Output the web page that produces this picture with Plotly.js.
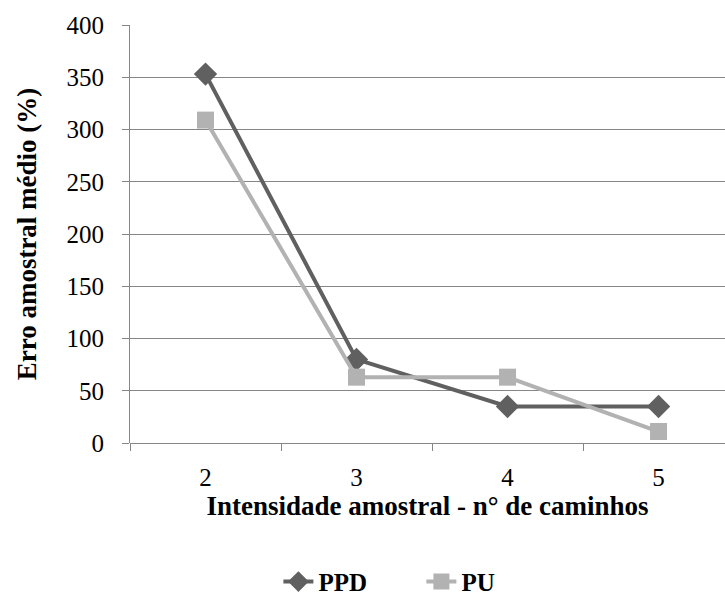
<!DOCTYPE html>
<html>
<head>
<meta charset="utf-8">
<script src="https://cdn.plot.ly/plotly-3.0.1.min.js"></script>
<style>html,body{margin:0;padding:0;background:#fff;}#chart{width:725px;height:598px;}</style>
</head>
<body>
<div id="chart"></div>
<script>
const categories = ['2', '3', '4', '5'];
const ppd = [353, 80, 35, 35];
const pu = [309, 63, 63, 11];

const xpos = categories.map((c, i) => i);
const font = {family: 'Liberation Serif, Times New Roman, serif', color: '#000'};

const traces = [
  {x: xpos, y: ppd, name: 'PPD', type: 'scatter', mode: 'lines+markers',
   line: {color: '#606060', width: 4},
   marker: {symbol: 'diamond', size: 18, color: '#606060'}},
  {x: xpos, y: pu, name: 'PU', type: 'scatter', mode: 'lines+markers',
   line: {color: '#b2b2b2', width: 4},
   marker: {symbol: 'square', size: 17, color: '#b2b2b2'}}
];

const layout = {
  width: 725, height: 598,
  margin: {l: 130, r: 0, t: 25, b: 155},
  paper_bgcolor: '#fff', plot_bgcolor: '#fff',
  font: Object.assign({size: 25}, font),
  showlegend: true,
  legend: {orientation: 'h', xref: 'container', yref: 'container',
           x: 0.384, xanchor: 'left', y: 0.027, yanchor: 'middle',
           font: Object.assign({size: 25, weight: 'bold'}, font),
           entrywidth: 98, entrywidthmode: 'pixels',
           traceorder: 'normal'},
  xaxis: {
    automargin: false,
    range: [-0.5, 3.44], tickvals: xpos, ticktext: categories,
    ticks: '', showgrid: false, zeroline: false,
    showline: false,
    minor: {tickmode: 'linear', tick0: -0.5, dtick: 1, ticks: 'outside', ticklen: 7, tickcolor: '#868686', tickwidth: 1, showgrid: false},
    tickfont: Object.assign({size: 25}, font), ticklabelstandoff: 17,
    title: {text: 'Intensidade amostral - n° de caminhos', font: Object.assign({size: 27, weight: 'bold'}, font), standoff: 0}
  },
  yaxis: {
    automargin: false,
    range: [0, 400], tickvals: [0, 50, 100, 150, 200, 250, 300, 350, 400],
    ticks: 'outside', ticklen: 7, tickcolor: '#868686', tickwidth: 1,
    showgrid: true, gridcolor: '#868686', gridwidth: 1,
    zeroline: true, zerolinecolor: '#868686', zerolinewidth: 1,
    showline: true, linecolor: '#868686', linewidth: 1,
    tickfont: Object.assign({size: 25}, font), ticklabelstandoff: 13,
    title: {text: 'Erro amostral médio (%)', font: Object.assign({size: 27, weight: 'bold'}, font), standoff: 22}
  }
};

Plotly.newPlot('chart', traces, layout, {displayModeBar: false, staticPlot: true});
</script>
</body>
</html>
